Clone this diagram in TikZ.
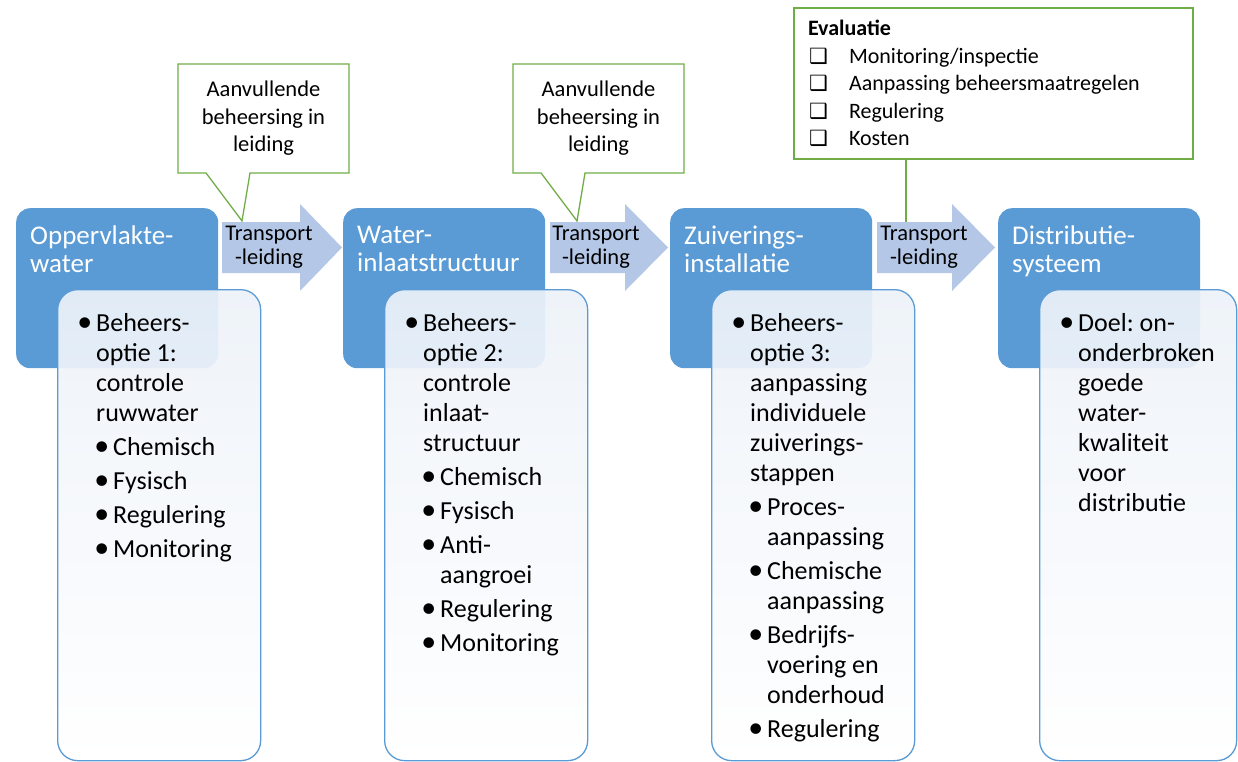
\documentclass[tikz,border=0pt]{standalone}
\usepackage{fontspec}
\setmainfont{Carlito}
\newfontfamily\symfont{DejaVu Sans}
\definecolor{boxblue}{HTML}{5B9BD5}
\definecolor{pipeblue}{HTML}{B4C7E7}
\definecolor{calgreen}{HTML}{70AD47}
\definecolor{listtop}{HTML}{EDF2F9}
\newcommand{\fixsp}{\frenchspacing\spaceskip=\fontdimen2\font\relax}
\newcommand{\bul}{\fixsp\noindent\llap{\scalebox{1.15}{\textbullet}\hspace{4pt}}}
\newcommand{\subbul}{\par\leftskip=17pt\noindent\llap{\scalebox{1.15}{\textbullet}\hspace{4pt}}}
\newcommand{\chk}{\makebox[41pt][l]{\hspace{1pt}{\symfont\fontsize{21}{21}\selectfont ❑}}}
\tikzstyle{stage}=[fill=boxblue, rounded corners=14pt, minimum width=202pt, minimum height=160pt, anchor=north west, inner sep=0pt]
\tikzstyle{stagetitle}=[text=white, font=\fontsize{27}{28}\selectfont, align=left, anchor=north west, inner sep=0pt]
\tikzstyle{listbox}=[draw=boxblue, line width=1.3pt, top color=listtop, bottom color=white, fill opacity=0.92, rounded corners=20pt, minimum width=203pt, minimum height=471pt, anchor=north west, inner sep=0pt]
\tikzstyle{listtxt}=[text width=165pt, align=left, font={\fontsize{26}{30}\selectfont\parskip=4pt}, anchor=north west, inner sep=0pt]
\tikzstyle{pipe}=[fill=pipeblue]
\tikzstyle{pipetxt}=[font=\fontsize{22.5}{24}\selectfont, align=center, inner sep=0pt]
\tikzstyle{greenbox}=[draw=calgreen, line width=1.3pt, fill=white]
\tikzstyle{callouttxt}=[font=\fontsize{22.5}{27.5}\selectfont, align=center, inner sep=0pt]

\begin{document}
\begin{tikzpicture}[x=1pt,y=-1pt]
        \useasboundingbox (0,0) rectangle (1238,762);

        % stages
        \node[stage] (st1) at (16,208) {};
        \node[stage] (st2) at (343,208) {};
        \node[stage] (st3) at (670,208) {};
        \node[stage] (st4) at (998,208) {};
        \node[stagetitle] (ti1) at ([xshift=14pt,yshift=-18pt]st1.north west) {Oppervlakte-\\water};
        \node[stagetitle] (ti2) at ([xshift=14pt,yshift=-18pt]st2.north west) {Water-\\inlaatstructuur};
        \node[stagetitle] (ti3) at ([xshift=14pt,yshift=-18pt]st3.north west) {Zuiverings-\\installatie};
        \node[stagetitle] (ti4) at ([xshift=14pt,yshift=-18pt]st4.north west) {Distributie-\\systeem};

        % lists
        \node[listbox] (ls1) at (57,289) {};
        \node[listbox] (ls2) at (384,289) {};
        \node[listbox] (ls3) at (711,289) {};
        \node[listbox, minimum width=197pt] (ls4) at (1039,289) {};
        \node[listtxt] (lt1) at ([xshift=39pt,yshift=-24pt]ls1.north west)
            {\bul Beheers-\\optie 1:\\controle\\ruwwater
             \subbul Chemisch\subbul Fysisch\subbul Regulering\subbul Monitoring\par};
        \node[listtxt] (lt2) at ([xshift=39pt,yshift=-24pt]ls2.north west)
            {\bul Beheers-\\optie 2:\\controle\\inlaat-\\structuur
             \subbul Chemisch\subbul Fysisch\subbul Anti-\\aangroei\subbul Regulering\subbul Monitoring\par};
        \node[listtxt] (lt3) at ([xshift=39pt,yshift=-24pt]ls3.north west)
            {\bul Beheers-\\optie 3:\\aanpassing\\individuele\\zuiverings-\\stappen
             \subbul Proces-\\aanpassing\subbul Chemische\\aanpassing\subbul Bedrijfs-\\voering en\\onderhoud\subbul Regulering\par};
        \node[listtxt] (lt4) at ([xshift=39pt,yshift=-24pt]ls4.north west)
            {\bul Doel: on-\\onderbroken\\goede\\water-\\kwaliteit\\voor\\distributie\par};

        % callouts
        \draw[greenbox] (178,64) -- (349,64) -- (349,173) -- (250,173) -- (242,221) -- (206,173) -- (178,173) -- cycle;
        \node[callouttxt] (ex1) at (263.5,118.5) {Aanvullende\\beheersing in\\leiding};
        \draw[greenbox] (513,64) -- (684,64) -- (684,173) -- (585,173) -- (577,221) -- (541,173) -- (513,173) -- cycle;
        \node[callouttxt] (ex2) at (598.5,118.5) {Aanvullende\\beheersing in\\leiding};
        \node[greenbox, minimum width=399pt, minimum height=151pt, text width=371pt, inner xsep=14pt, inner ysep=0pt,
              align=left, font=\fontsize{22}{27.5}\selectfont] (eval) at (993.5,83.5)
            {\fixsp\textbf{Evaluatie}\\\chk Monitoring/inspectie\\\chk Aanpassing beheersmaatregelen\\\chk Regulering\\\chk Kosten};
        \coordinate (p3) at (906,222);
        \draw[calgreen, line width=1.3pt] (eval.south -| p3) -- (p3);

        % transport pipes
        \fill[pipe] (222,222) -- (300,222) -- (300,204) -- (342,247.5) -- (300,291) -- (300,273) -- (222,273) -- cycle;
        \node[pipetxt] (tp1) at (269,247.5) {Transport\\-leiding};
        \fill[pipe] (550,222) -- (625,222) -- (625,204) -- (668,247.5) -- (625,291) -- (625,273) -- (550,273) -- cycle;
        \node[pipetxt] (tp2) at (596,247.5) {Transport\\-leiding};
        \fill[pipe] (877,222) -- (952,222) -- (952,204) -- (995,247.5) -- (952,291) -- (952,273) -- (877,273) -- cycle;
        \node[pipetxt] (tp3) at (924,247.5) {Transport\\-leiding};
\end{tikzpicture}
\end{document}
